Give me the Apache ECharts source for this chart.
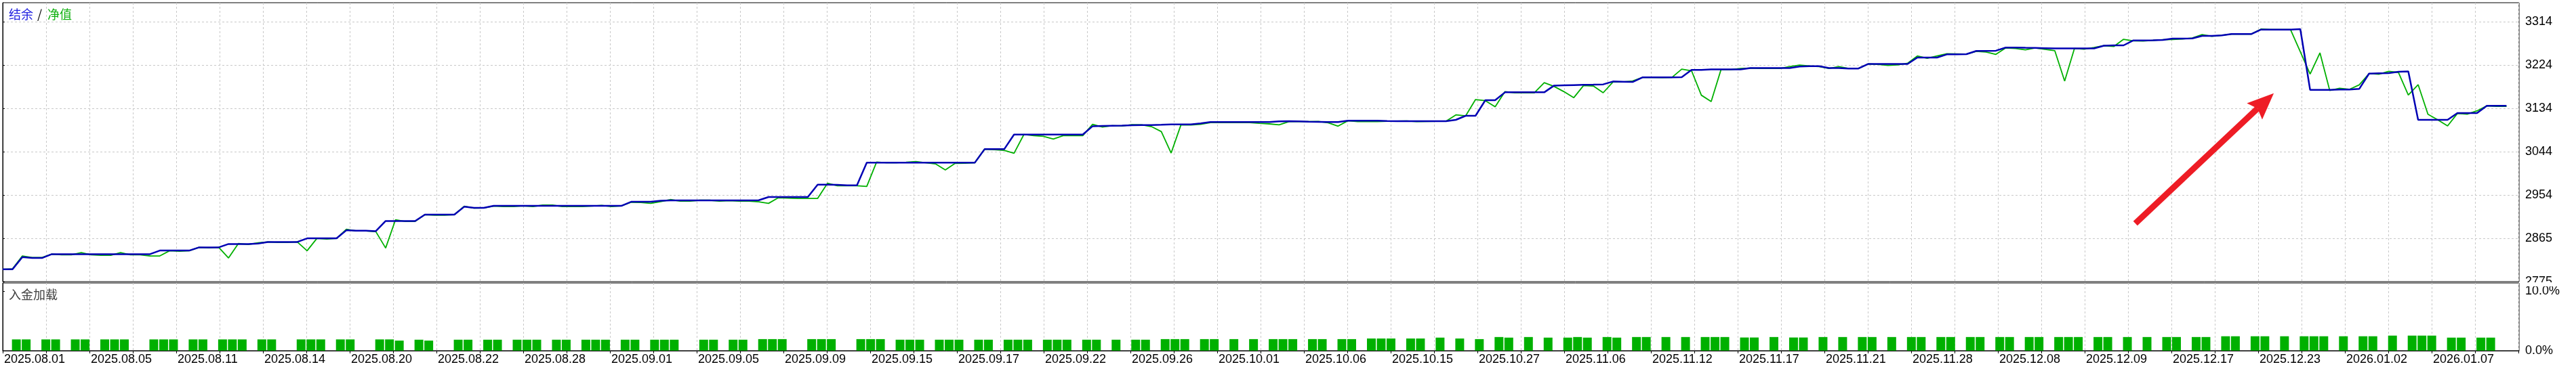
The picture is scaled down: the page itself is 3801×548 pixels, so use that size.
<!DOCTYPE html>
<html>
<head>
<meta charset="utf-8">
<script src="https://cdn.jsdelivr.net/npm/echarts@6/dist/echarts.min.js"></script>
<style>
html,body{margin:0;padding:0;background:#ffffff;}
#c{width:3801px;height:548px;}
</style>
</head>
<body>
<div id="c"></div>
<script>
// ---------------- data ----------------
const dateLabels = ['2025.08.01','2025.08.05','2025.08.11','2025.08.14','2025.08.20','2025.08.22','2025.08.28','2025.09.01','2025.09.05','2025.09.09','2025.09.15','2025.09.17','2025.09.22','2025.09.26','2025.10.01','2025.10.06','2025.10.15','2025.10.27','2025.11.06','2025.11.12','2025.11.17','2025.11.21','2025.11.28','2025.12.08','2025.12.09','2025.12.17','2025.12.23','2026.01.02','2026.01.07'];
const yTickLabels = ['2775','2865','2954','3044','3134','3224','3314'];
const loadTickLabels = ['0.0%','10.0%'];

// balance (结余), one value per deal
const balance = [
2800.2,2800.2,2825.5,2823.7,2823.7,2831.6,2831.6,2831.6,2831.6,2831.6,
2831.6,2831.6,2831.6,2831.6,2831.6,2831.6,2839.1,2839.1,2839.1,2839.1,
2845.7,2845.7,2845.7,2852.7,2852.7,2852.7,2853.6,2856.9,2856.9,2856.9,
2856.9,2864.4,2864.4,2864.4,2864.4,2881.2,2880.3,2880.3,2879.4,2900.4,
2900.4,2900.4,2900.4,2913.6,2913.6,2913.6,2913.6,2930.0,2927.6,2927.6,
2931.8,2931.8,2931.8,2931.8,2931.8,2931.8,2931.8,2931.8,2931.8,2931.8,
2931.8,2931.8,2931.8,2931.8,2940.3,2940.3,2940.3,2942.6,2943.1,2943.1,
2943.1,2943.1,2943.1,2943.1,2943.1,2943.1,2943.1,2943.5,2950.1,2950.1,
2950.1,2950.1,2950.1,2975.9,2975.9,2975.4,2974.5,2974.5,3021.3,3021.3,3021.3,
3021.3,3021.3,3021.3,3021.3,3021.3,3021.3,3021.3,3021.3,3021.3,3049.4,
3049.4,3049.4,3079.8,3079.8,3079.8,3079.8,3079.8,3079.8,3079.8,3079.8,
3097.1,3097.6,3098.1,3098.5,3099.0,3099.5,3099.5,3100.0,3100.9,3100.9,
3100.9,3102.8,3105.6,3105.6,3105.6,3105.6,3105.6,3105.6,3105.6,3107.0,
3107.5,3107.0,3106.5,3106.1,3105.6,3105.6,3108.4,3108.4,3108.4,3108.4,
3107.9,3107.5,3107.5,3107.5,3107.5,3107.5,3107.5,3110.3,3118.7,3118.7,
3151.0,3151.0,3167.4,3167.4,3167.4,3167.4,3167.4,3181.4,3181.9,3182.4,
3182.9,3183.3,3183.8,3189.9,3189.4,3188.9,3198.3,3198.3,3198.3,3198.3,
3198.8,3214.0,3214.0,3214.9,3214.9,3214.9,3214.9,3217.7,3217.7,3217.7,
3217.7,3217.7,3221.0,3221.5,3221.5,3217.7,3217.7,3216.8,3216.8,3226.2,
3226.2,3226.2,3226.2,3226.2,3239.5,3239.5,3239.5,3246.1,3246.1,3246.6,
3253.2,3253.2,3253.7,3260.3,3260.3,3259.8,3259.4,3258.9,3258.4,3258.4,
3258.4,3258.4,3258.4,3264.1,3264.8,3264.8,3275.1,3275.1,3275.5,3276.0,
3278.8,3278.8,3279.3,3284.4,3284.4,3285.4,3288.2,3288.2,3288.2,3297.5,
3297.5,3297.5,3297.5,3298.5,3172.5,3172.5,3172.5,3173.0,3173.0,3174.4,
3206.2,3206.7,3207.2,3210.0,3210.9,3110.3,3110.3,3110.3,3110.3,3124.3,
3124.3,3124.3,3139.3,3139.3,3139.3
];

// equity (净值), one value per deal
const equity = [
2800.2,2801.2,2827.9,2824.6,2824.6,2831.6,2830.2,2830.2,2834.9,2830.2,
2829.3,2829.3,2834.9,2830.2,2830.2,2827.9,2827.9,2838.7,2837.7,2838.7,
2845.7,2844.7,2845.7,2823.7,2853.6,2851.8,2855.0,2856.9,2856.0,2856.0,
2856.9,2838.7,2864.4,2863.0,2864.4,2883.1,2879.8,2879.8,2878.4,2844.3,
2902.8,2899.5,2899.5,2913.6,2912.6,2912.6,2913.6,2930.9,2927.2,2927.6,
2931.4,2930.4,2930.4,2931.8,2930.4,2933.3,2933.3,2930.4,2930.4,2930.4,
2931.4,2932.8,2930.4,2931.8,2939.3,2938.9,2937.0,2940.7,2944.9,2941.7,
2941.7,2943.5,2943.5,2941.7,2942.6,2941.7,2941.7,2940.3,2937.0,2948.7,
2947.8,2947.3,2947.3,2947.3,2978.7,2973.5,2973.5,2973.5,2972.1,3022.7,3021.3,
3021.3,3022.2,3023.6,3021.3,3019.0,3006.3,3019.9,3020.4,3021.3,3049.4,
3048.5,3047.0,3041.0,3079.8,3077.5,3076.1,3070.5,3077.5,3077.5,3077.5,
3100.9,3095.3,3098.1,3097.6,3100.4,3100.0,3096.2,3085.9,3041.4,3100.0,
3099.5,3100.9,3104.6,3104.6,3104.6,3104.6,3104.6,3103.2,3101.9,3100.0,
3106.5,3106.5,3106.5,3107.0,3104.2,3097.2,3108.4,3106.5,3106.5,3106.5,
3107.5,3107.5,3107.9,3106.5,3107.0,3107.5,3107.5,3120.6,3118.7,3152.4,
3150.1,3137.4,3168.8,3166.5,3166.5,3166.5,3187.5,3179.6,3168.8,3156.2,
3181.4,3180.5,3166.5,3188.9,3188.9,3190.8,3198.3,3198.3,3197.8,3198.3,
3215.4,3212.1,3161.4,3148.2,3214.4,3214.4,3216.8,3217.7,3216.8,3216.8,
3216.8,3220.6,3223.9,3222.0,3220.6,3216.8,3220.6,3216.8,3216.8,3226.2,
3225.3,3223.4,3224.4,3227.7,3242.8,3238.1,3242.8,3247.5,3247.1,3246.6,
3252.3,3250.8,3246.1,3259.4,3258.4,3255.6,3259.4,3256.5,3253.7,3190.8,
3258.4,3257.0,3260.3,3264.1,3262.4,3277.4,3274.1,3273.7,3275.1,3276.5,
3276.9,3277.9,3280.2,3287.2,3283.5,3285.8,3288.2,3288.2,3288.2,3298.5,
3297.5,3297.5,3297.5,3251.6,3205.3,3249.3,3171.1,3175.8,3173.5,3182.8,
3206.2,3204.8,3210.9,3208.6,3161.8,3183.3,3122.0,3110.3,3097.6,3123.4,
3122.0,3129.0,3139.3,3138.3,3138.3
];

// deposit load (入金加载): deal slot index and percent
const loadSlots = [
1,2,4,5,7,8,10,11,12,15,16,17,19,20,22,23,24,26,27,30,31,32,34,35,38,39,40,42,
43,46,47,49,50,52,53,54,56,57,59,60,61,63,64,66,67,68,71,72,74,75,77,78,79,82,83,84,
87,88,89,91,92,93,95,96,97,99,100,102,103,104,106,107,108,110,111,113,115,116,118,119,120,122,123,125,127,
129,130,131,133,134,136,137,139,140,141,143,144,146,148,150,152,153,155,157,159,160,161,163,164,166,167,169,
171,173,174,175,177,178,180,182,183,185,187,189,190,192,194,195,197,198,200,201,203,204,206,207,209,210,211,213,214,
216,218,220,221,223,224,226,227,229,230,232,234,235,236,238,240,241,243,245,246,247,249,250,252,253
];
const loadPct = [
1.9,1.9,1.9,1.9,1.9,1.9,1.9,1.9,1.9,1.9,1.9,1.9,1.9,1.9,1.9,1.9,1.9,1.9,1.9,1.9,1.9,1.9,1.9,1.9,1.9,1.9,1.7,1.85,
1.7,1.85,1.85,1.85,1.85,1.85,1.85,1.85,1.85,1.85,1.85,1.85,1.85,1.85,1.85,1.85,1.85,1.85,1.85,1.85,1.85,1.85,1.95,1.95,1.95,1.95,1.95,1.95,
1.95,1.95,1.95,1.85,1.85,1.85,1.85,1.85,1.85,1.85,1.85,1.85,1.85,1.85,1.85,1.85,1.85,1.85,1.85,1.85,1.85,1.85,1.95,1.95,1.95,1.95,1.95,1.95,1.95,
1.95,1.95,1.95,1.95,1.95,1.95,1.95,2.05,2.05,2.05,2.05,2.05,2.2,2.05,1.95,2.3,2.2,2.3,2.2,2.2,2.3,2.2,2.3,2.2,2.3,2.3,2.3,
2.3,2.3,2.3,2.3,2.22,2.22,2.3,2.22,2.22,2.3,2.3,2.3,2.3,2.3,2.3,2.3,2.3,2.3,2.3,2.3,2.3,2.3,2.3,2.3,2.3,2.3,2.3,2.3,2.3,
2.3,2.3,2.3,2.3,2.3,2.3,2.43,2.43,2.43,2.43,2.43,2.43,2.43,2.43,2.43,2.43,2.43,2.54,2.54,2.54,2.54,2.2,2.2,2.2,2.2
];

// annotation arrow (data coordinates: deal slot, balance value)
const arrowFrom = [217.2, 2895.4];
const arrowTo = [231.3, 3165.5];

// ---------------- layout / scales ----------------
const PLOT_W = 3713, SLOT_PX = 14.488;
const X_MAX = PLOT_W / SLOT_PX, X_STEP = 64 / SLOT_PX;
const Y_MIN = 2774.6, Y_STEP = 89.9, Y_MAX = 3353.3;
const LOAD_MAX = 11.4, LOAD_STEP = 10;
const BAR_SHIFT = 0.39;

const BLUE = '#0000b4', GREEN = '#00b000', GRIDC = '#c8c8c8';
const LABEL_FONT = 'Liberation Sans';
const CJK_FONT = '"Noto Sans CJK SC", "Noto Sans CJK JP", sans-serif';

const chart = echarts.init(document.getElementById('c'), null, {renderer: 'canvas'});

function xLabel(v) {
  const i = Math.round(v / X_STEP);
  if (Math.abs(v - i * X_STEP) > 1e-3 || i % 2 !== 0) return '';
  return dateLabels[i / 2] || '';
}
function yLabel(v) {
  const i = Math.round((v - Y_MIN) / Y_STEP);
  if (Math.abs(v - (Y_MIN + i * Y_STEP)) > 1e-3) return '';
  return yTickLabels[i] || '';
}
function loadLabel(v) {
  const i = Math.round(v / LOAD_STEP);
  if (Math.abs(v - i * LOAD_STEP) > 1e-6) return '';
  return loadTickLabels[i] || '';
}

const dashed = {show: true, showMinLine: false, showMaxLine: false, lineStyle: {color: GRIDC, type: [3, 3], width: 1}};

const option = {
  animation: false,
  backgroundColor: '#ffffff',
  grid: [
    {left: 4, top: 4, width: PLOT_W, height: 412, show: true, borderColor: '#000', borderWidth: 1, backgroundColor: '#fff'},
    {left: 4, top: 418, width: PLOT_W, height: 100, show: true, borderColor: '#000', borderWidth: 1, backgroundColor: '#fff'}
  ],
  xAxis: [
    {type: 'value', gridIndex: 0, min: 0, max: X_MAX, interval: X_STEP,
     axisLine: {show: false}, axisTick: {show: false}, axisLabel: {show: false}, splitLine: dashed},
    {type: 'value', gridIndex: 1, min: 0, max: X_MAX, interval: X_STEP,
     axisLine: {show: true, lineStyle: {color: '#000', width: 1}},
     axisTick: {show: true, length: 4, lineStyle: {color: '#000'}},
     axisLabel: {show: true, formatter: xLabel, align: 'left', margin: 4, padding: [0, 0, 0, 2],
                 fontFamily: LABEL_FONT, fontSize: 18, color: '#000', showMaxLabel: false, hideOverlap: false},
     splitLine: dashed}
  ],
  yAxis: [
    {type: 'value', gridIndex: 0, position: 'right', min: Y_MIN, max: Y_MAX, interval: Y_STEP,
     axisLine: {show: true, lineStyle: {color: '#000', width: 1}},
     axisTick: {show: true, length: 3, lineStyle: {color: '#000'}},
     axisLabel: {show: true, formatter: yLabel, margin: 9, fontFamily: LABEL_FONT, fontSize: 18, color: '#000',
                 showMaxLabel: false},
     splitLine: dashed},
    {type: 'value', gridIndex: 1, position: 'right', min: 0, max: LOAD_MAX, interval: LOAD_STEP,
     axisLine: {show: true, lineStyle: {color: '#000', width: 1}},
     axisTick: {show: true, length: 3, lineStyle: {color: '#000'}},
     axisLabel: {show: true, formatter: loadLabel, margin: 9, fontFamily: LABEL_FONT, fontSize: 18, color: '#000',
                 showMaxLabel: false},
     splitLine: {show: false}}
  ],
  series: [
    {name: '净值', type: 'line', xAxisIndex: 0, yAxisIndex: 0, symbol: 'none', z: 3,
     data: equity.map((v, i) => [i, v]), lineStyle: {color: GREEN, width: 1.8}},
    {name: '结余', type: 'line', xAxisIndex: 0, yAxisIndex: 0, symbol: 'none', z: 4,
     data: balance.map((v, i) => [i, v]), lineStyle: {color: BLUE, width: 2.5}},
    {name: '入金加载', type: 'bar', xAxisIndex: 1, yAxisIndex: 1, barWidth: 13,
     data: loadSlots.map((s, i) => [s + BAR_SHIFT, loadPct[i]]), itemStyle: {color: GREEN}}
  ]
};
chart.setOption(option);

// ---------- annotations: legend texts, clipped bottom label, red arrow ----------
const p0 = chart.convertToPixel({gridIndex: 0}, arrowFrom);
const p1 = chart.convertToPixel({gridIndex: 0}, arrowTo);
const dx = p1[0] - p0[0], dy = p1[1] - p0[1];
const len = Math.sqrt(dx * dx + dy * dy);
const ux = dx / len, uy = dy / len, nx = -uy, ny = ux;
const HL = 39, HW = 16.5, NOTCH = 6, SW = 9;
const base = [p1[0] - ux * HL, p1[1] - uy * HL];
const neck = [p1[0] - ux * (HL - NOTCH), p1[1] - uy * (HL - NOTCH)];
const RED = '#ee1c25';

chart.setOption({
  graphic: [
    {type: 'rect', z: 100, shape: {x: 3719, y: 417, width: 82, height: 6}, style: {fill: '#fff'}},
    {type: 'text', z: 100, left: 13, top: 12, style: {text: '结余', fill: '#2020e0', font: '18px ' + CJK_FONT}},
    {type: 'text', z: 100, left: 55, top: 12, style: {text: '/', fill: '#000', font: '18px ' + CJK_FONT}},
    {type: 'text', z: 100, left: 70, top: 12, style: {text: '净值', fill: '#10b010', font: '18px ' + CJK_FONT}},
    {type: 'text', z: 100, left: 13, top: 426, style: {text: '入金加载', fill: '#404040', font: '18px ' + CJK_FONT}},
    {type: 'line', z: 100, shape: {x1: p0[0], y1: p0[1], x2: neck[0], y2: neck[1]},
     style: {stroke: RED, lineWidth: SW, lineCap: 'butt'}},
    {type: 'polygon', z: 101, shape: {points: [
      [p1[0], p1[1]],
      [base[0] + nx * HW, base[1] + ny * HW],
      [neck[0], neck[1]],
      [base[0] - nx * HW, base[1] - ny * HW]
    ]}, style: {fill: RED}}
  ]
});
</script>
</body>
</html>
